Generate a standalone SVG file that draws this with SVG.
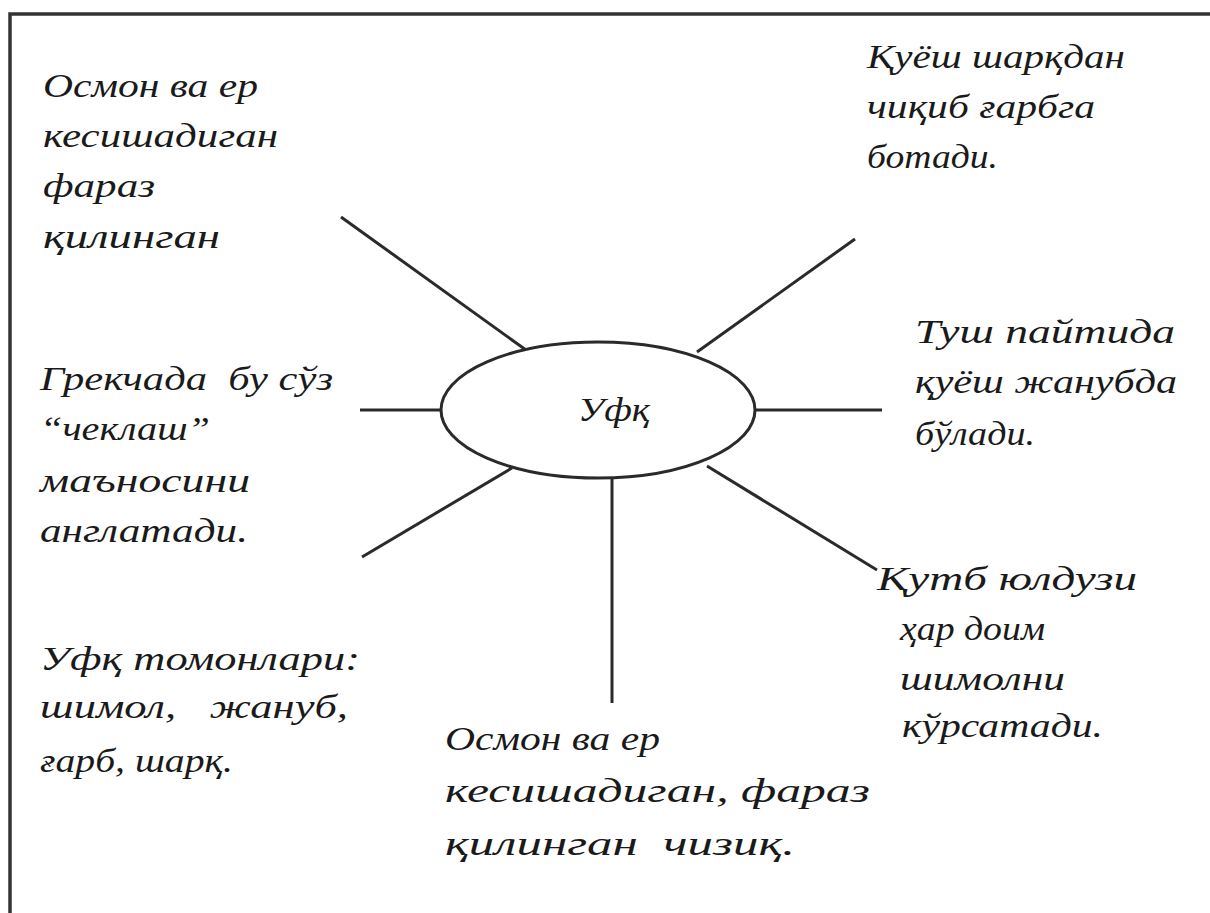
<svg xmlns="http://www.w3.org/2000/svg" width="1210" height="913" viewBox="0 0 1210 913">
<style>
.t{font-family:"Liberation Serif","DejaVu Serif",serif;font-style:italic;font-size:34px;fill:#1a1a1a;white-space:pre}
.ln{stroke:#2a2a2a;stroke-width:3;fill:none}
</style>
<rect width="1210" height="913" fill="#fff"/>
<path d="M1210,14 H10 V913" stroke="#333" stroke-width="3.5" fill="none"/>
<g id="connectors" class="ln">
<line x1="341" y1="217" x2="526" y2="350"/>
<line x1="855" y1="239" x2="697" y2="352"/>
<line x1="360" y1="410" x2="441" y2="410"/>
<line x1="755" y1="410" x2="882" y2="410"/>
<line x1="362" y1="557" x2="512" y2="468"/>
<line x1="877" y1="570" x2="707" y2="466"/>
<line x1="612" y1="478" x2="612" y2="703"/>
</g>
<g id="center">
<ellipse cx="598" cy="410" rx="157" ry="68" fill="#fff" stroke="#2a2a2a" stroke-width="3"/>
<text class="t" x="578" y="421" textLength="72" lengthAdjust="spacingAndGlyphs">Уфқ</text>
</g>
<g id="n-tl">
<text class="t" x="43" y="97" textLength="215" lengthAdjust="spacingAndGlyphs">Осмон ва ер</text>
<text class="t" x="43" y="147" textLength="235" lengthAdjust="spacingAndGlyphs">кесишадиган</text>
<text class="t" x="43" y="197" textLength="112" lengthAdjust="spacingAndGlyphs">фараз</text>
<text class="t" x="43" y="248" textLength="177" lengthAdjust="spacingAndGlyphs">қилинган</text>
</g>
<g id="n-tr">
<text class="t" x="867" y="68" textLength="258" lengthAdjust="spacingAndGlyphs">Қуёш шарқдан</text>
<text class="t" x="867" y="118" textLength="228" lengthAdjust="spacingAndGlyphs">чиқиб ғарбга</text>
<text class="t" x="867" y="168" textLength="131" lengthAdjust="spacingAndGlyphs">ботади.</text>
</g>
<g id="n-ml">
<text class="t" x="40" y="390" textLength="293" lengthAdjust="spacingAndGlyphs">Грекчада  бу сўз</text>
<text class="t" x="40" y="440" textLength="170" lengthAdjust="spacingAndGlyphs">“чеклаш”</text>
<text class="t" x="40" y="492" textLength="210" lengthAdjust="spacingAndGlyphs">маъносини</text>
<text class="t" x="40" y="542" textLength="208" lengthAdjust="spacingAndGlyphs">англатади.</text>
</g>
<g id="n-mr">
<text class="t" x="915" y="343" textLength="260" lengthAdjust="spacingAndGlyphs">Туш пайтида</text>
<text class="t" x="915" y="393" textLength="262" lengthAdjust="spacingAndGlyphs">қуёш жанубда</text>
<text class="t" x="915" y="445" textLength="120" lengthAdjust="spacingAndGlyphs">бўлади.</text>
</g>
<g id="n-bl">
<text class="t" x="40" y="670" textLength="320" lengthAdjust="spacingAndGlyphs">Уфқ томонлари:</text>
<text class="t" x="40" y="718" textLength="308" lengthAdjust="spacingAndGlyphs">шимол,   жануб,</text>
<text class="t" x="40" y="772" textLength="193" lengthAdjust="spacingAndGlyphs">ғарб, шарқ.</text>
</g>
<g id="n-br">
<text class="t" x="877" y="590" textLength="260" lengthAdjust="spacingAndGlyphs">Қутб юлдузи</text>
<text class="t" x="900" y="640" textLength="145" lengthAdjust="spacingAndGlyphs">ҳар доим</text>
<text class="t" x="900" y="690" textLength="165" lengthAdjust="spacingAndGlyphs">шимолни</text>
<text class="t" x="902" y="737" textLength="201" lengthAdjust="spacingAndGlyphs">кўрсатади.</text>
</g>
<g id="n-bc">
<text class="t" x="445" y="750" textLength="215" lengthAdjust="spacingAndGlyphs">Осмон ва ер</text>
<text class="t" x="445" y="802" textLength="425" lengthAdjust="spacingAndGlyphs">кесишадиган, фараз</text>
<text class="t" x="445" y="855" textLength="350" lengthAdjust="spacingAndGlyphs">қилинган  чизиқ.</text>
</g>
</svg>
